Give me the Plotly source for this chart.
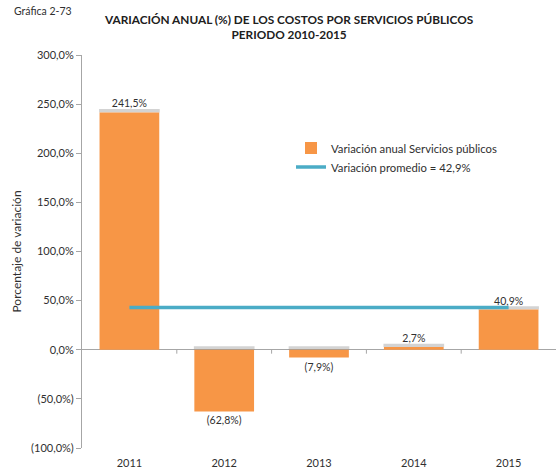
import plotly.graph_objects as go

# Annual variation of public utility costs, 2011-2015
years = ["2011", "2012", "2013", "2014", "2015"]
variation = [241.5, -62.8, -7.9, 2.7, 40.9]
average_variation = 42.9

tick_values = [-100, -50, 0, 50, 100, 150, 200, 250, 300]
tick_labels = ["(100,0%)", "(50,0%)", "0,0%", "50,0%", "100,0%",
               "150,0%", "200,0%", "250,0%", "300,0%"]


def fmt(v):
    s = f"{abs(v):.1f}".replace(".", ",") + "%"
    return f"({s})" if v < 0 else s


bar_labels = [fmt(v) for v in variation]
FONT = "Lato, 'Open Sans', sans-serif"

fig = go.Figure()

# Soft shadow along the top edge of each bar
fig.add_trace(go.Bar(
    x=years, y=[3.5] * len(years), base=[max(v, 0) for v in variation],
    marker=dict(color="rgba(130,130,130,0.35)", line=dict(width=0)),
    width=0.64, showlegend=False, hoverinfo="skip",
))

fig.add_trace(go.Bar(
    x=years, y=variation, name="Variación anual Servicios públicos",
    marker=dict(color="#F79646", line=dict(width=0)),
    width=0.63,
    text=bar_labels, textposition="outside", cliponaxis=False,
    textfont=dict(size=10.5, color="#303030", family=FONT),
))

fig.add_trace(go.Scatter(
    x=[years[0], years[-1]], y=[average_variation, average_variation],
    mode="lines", name=f"Variación promedio = {fmt(average_variation)}",
    line=dict(color="#4BACC6", width=3.5),
))

PW, PH = 474, 393  # plot area size in pixels

fig.update_layout(
    width=556, height=471,
    margin=dict(l=82, r=0, t=55, b=23),
    paper_bgcolor="white", plot_bgcolor="white",
    barmode="overlay",
    font=dict(family=FONT, size=11, color="#303030"),
    showlegend=True,
    legend=dict(x=(291 - 82) / PW, y=0.8, xanchor="left", yanchor="top",
                bgcolor="rgba(0,0,0,0)", font=dict(size=11.3, color="#303030"),
                tracegroupgap=6, itemwidth=30),
    annotations=[
        dict(text="Gráfica 2-73", x=(12 - 82) / PW, y=1 + (55 - 3) / PH,
             xref="paper", yref="paper",
             showarrow=False, xanchor="left", yanchor="top",
             font=dict(size=10.5, color="#303030")),
        dict(text="<b>VARIACIÓN ANUAL (%) DE LOS COSTOS POR SERVICIOS PÚBLICOS"
                  "<br>PERIODO 2010-2015</b>",
             x=(289 - 82) / PW, y=1 + (55 - 10) / PH, xref="paper", yref="paper",
             xanchor="center", yanchor="top",
             showarrow=False, font=dict(size=11.8, color="#202020")),
    ],
)

fig.update_xaxes(
    type="category", showgrid=False, showline=False, zeroline=False,
    ticks="", ticklabelstandoff=7, tickfont=dict(size=11, color="#303030"),
    range=[-0.5, 4.5], fixedrange=True,
)
fig.update_yaxes(
    range=[-100, 300], tickvals=tick_values, ticktext=tick_labels,
    showgrid=False, zeroline=True, zerolinecolor="#A6A6A6", zerolinewidth=1,
    showline=True, linecolor="#A6A6A6", linewidth=1,
    ticks="outside", ticklen=5, tickcolor="#A6A6A6",
    tickfont=dict(size=11, color="#303030"),
    title=dict(text="Porcentaje de variación", font=dict(size=12, color="#303030"),
               standoff=6),
)

# Category separators on the zero line
for i in range(1, len(years)):
    fig.add_shape(type="line", xref="x", yref="y", x0=i - 0.5, x1=i - 0.5,
                  y0=0, y1=-4, line=dict(color="#A6A6A6", width=1))

fig.write_html("out.html")
